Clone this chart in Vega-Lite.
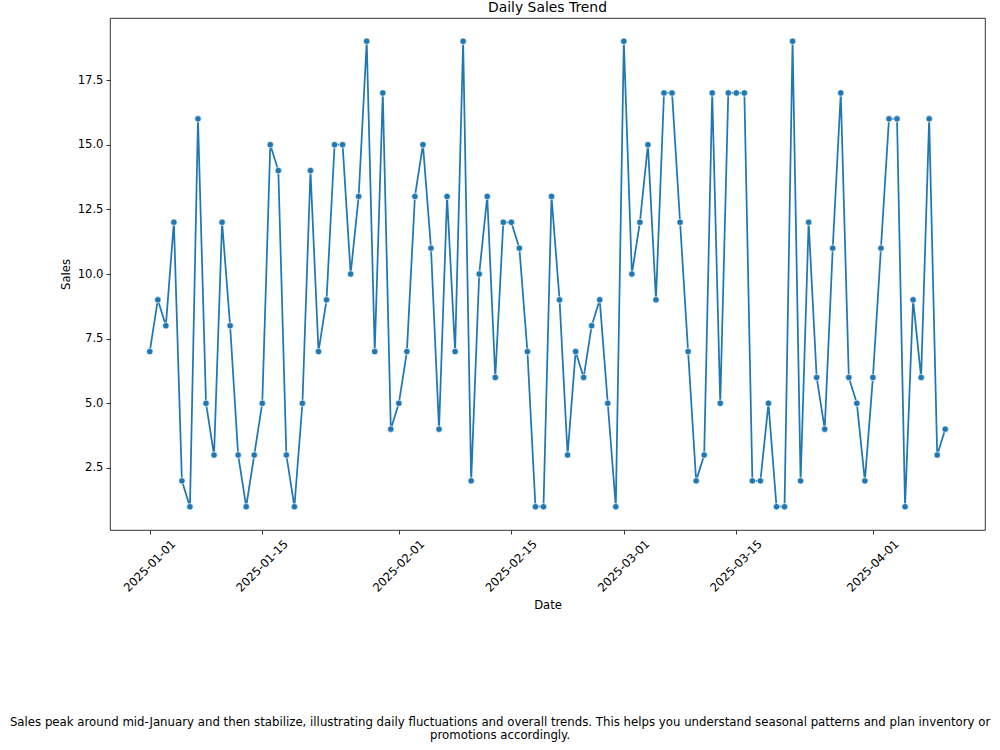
{
  "$schema": "https://vega.github.io/schema/vega-lite/v6.json",
  "background": "white",
  "padding": {"left": 9, "top": 0, "right": 0, "bottom": 0},
  "config": {
    "font": "DejaVu Sans",
    "view": {"stroke": "#000000", "strokeWidth": 0.8},
    "axis": {
      "labelFont": "DejaVu Sans",
      "titleFont": "DejaVu Sans",
      "labelFontSize": 11.6,
      "titleFontSize": 11.6,
      "titleFontWeight": "normal",
      "labelColor": "#000000",
      "titleColor": "#000000",
      "tickColor": "#000000",
      "tickSize": 4,
      "tickWidth": 0.8,
      "domain": false,
      "grid": false
    }
  },
  "title": {
    "text": [
      "Sales peak around mid-January and then stabilize, illustrating daily fluctuations and overall trends. This helps you understand seasonal patterns and plan inventory or",
      "promotions accordingly."
    ],
    "orient": "bottom",
    "anchor": "middle",
    "font": "DejaVu Sans",
    "fontSize": 11.75,
    "fontWeight": "normal",
    "color": "#000000",
    "lineHeight": 13.5,
    "offset": 105,
    "dx": -22.5
  },
  "vconcat": [
    {
      "title": {
        "text": "Daily Sales Trend",
        "anchor": "middle",
        "font": "DejaVu Sans",
        "fontSize": 13.9,
        "fontWeight": "normal",
        "color": "#000000",
        "offset": 3
      },
      "width": 875,
      "height": 512,
      "data": {
        "values": [
          {"date": "2025-01-01", "sales": 7},
          {"date": "2025-01-02", "sales": 9},
          {"date": "2025-01-03", "sales": 8},
          {"date": "2025-01-04", "sales": 12},
          {"date": "2025-01-05", "sales": 2},
          {"date": "2025-01-06", "sales": 1},
          {"date": "2025-01-07", "sales": 16},
          {"date": "2025-01-08", "sales": 5},
          {"date": "2025-01-09", "sales": 3},
          {"date": "2025-01-10", "sales": 12},
          {"date": "2025-01-11", "sales": 8},
          {"date": "2025-01-12", "sales": 3},
          {"date": "2025-01-13", "sales": 1},
          {"date": "2025-01-14", "sales": 3},
          {"date": "2025-01-15", "sales": 5},
          {"date": "2025-01-16", "sales": 15},
          {"date": "2025-01-17", "sales": 14},
          {"date": "2025-01-18", "sales": 3},
          {"date": "2025-01-19", "sales": 1},
          {"date": "2025-01-20", "sales": 5},
          {"date": "2025-01-21", "sales": 14},
          {"date": "2025-01-22", "sales": 7},
          {"date": "2025-01-23", "sales": 9},
          {"date": "2025-01-24", "sales": 15},
          {"date": "2025-01-25", "sales": 15},
          {"date": "2025-01-26", "sales": 10},
          {"date": "2025-01-27", "sales": 13},
          {"date": "2025-01-28", "sales": 19},
          {"date": "2025-01-29", "sales": 7},
          {"date": "2025-01-30", "sales": 17},
          {"date": "2025-01-31", "sales": 4},
          {"date": "2025-02-01", "sales": 5},
          {"date": "2025-02-02", "sales": 7},
          {"date": "2025-02-03", "sales": 13},
          {"date": "2025-02-04", "sales": 15},
          {"date": "2025-02-05", "sales": 11},
          {"date": "2025-02-06", "sales": 4},
          {"date": "2025-02-07", "sales": 13},
          {"date": "2025-02-08", "sales": 7},
          {"date": "2025-02-09", "sales": 19},
          {"date": "2025-02-10", "sales": 2},
          {"date": "2025-02-11", "sales": 10},
          {"date": "2025-02-12", "sales": 13},
          {"date": "2025-02-13", "sales": 6},
          {"date": "2025-02-14", "sales": 12},
          {"date": "2025-02-15", "sales": 12},
          {"date": "2025-02-16", "sales": 11},
          {"date": "2025-02-17", "sales": 7},
          {"date": "2025-02-18", "sales": 1},
          {"date": "2025-02-19", "sales": 1},
          {"date": "2025-02-20", "sales": 13},
          {"date": "2025-02-21", "sales": 9},
          {"date": "2025-02-22", "sales": 3},
          {"date": "2025-02-23", "sales": 7},
          {"date": "2025-02-24", "sales": 6},
          {"date": "2025-02-25", "sales": 8},
          {"date": "2025-02-26", "sales": 9},
          {"date": "2025-02-27", "sales": 5},
          {"date": "2025-02-28", "sales": 1},
          {"date": "2025-03-01", "sales": 19},
          {"date": "2025-03-02", "sales": 10},
          {"date": "2025-03-03", "sales": 12},
          {"date": "2025-03-04", "sales": 15},
          {"date": "2025-03-05", "sales": 9},
          {"date": "2025-03-06", "sales": 17},
          {"date": "2025-03-07", "sales": 17},
          {"date": "2025-03-08", "sales": 12},
          {"date": "2025-03-09", "sales": 7},
          {"date": "2025-03-10", "sales": 2},
          {"date": "2025-03-11", "sales": 3},
          {"date": "2025-03-12", "sales": 17},
          {"date": "2025-03-13", "sales": 5},
          {"date": "2025-03-14", "sales": 17},
          {"date": "2025-03-15", "sales": 17},
          {"date": "2025-03-16", "sales": 17},
          {"date": "2025-03-17", "sales": 2},
          {"date": "2025-03-18", "sales": 2},
          {"date": "2025-03-19", "sales": 5},
          {"date": "2025-03-20", "sales": 1},
          {"date": "2025-03-21", "sales": 1},
          {"date": "2025-03-22", "sales": 19},
          {"date": "2025-03-23", "sales": 2},
          {"date": "2025-03-24", "sales": 12},
          {"date": "2025-03-25", "sales": 6},
          {"date": "2025-03-26", "sales": 4},
          {"date": "2025-03-27", "sales": 11},
          {"date": "2025-03-28", "sales": 17},
          {"date": "2025-03-29", "sales": 6},
          {"date": "2025-03-30", "sales": 5},
          {"date": "2025-03-31", "sales": 2},
          {"date": "2025-04-01", "sales": 6},
          {"date": "2025-04-02", "sales": 11},
          {"date": "2025-04-03", "sales": 16},
          {"date": "2025-04-04", "sales": 16},
          {"date": "2025-04-05", "sales": 1},
          {"date": "2025-04-06", "sales": 9},
          {"date": "2025-04-07", "sales": 6},
          {"date": "2025-04-08", "sales": 16},
          {"date": "2025-04-09", "sales": 3},
          {"date": "2025-04-10", "sales": 4}
        ]
      },
      "encoding": {
        "x": {
          "field": "date",
          "type": "temporal",
          "title": "Date",
          "scale": {
            "type": "utc",
            "domain": [
              {"year": 2024, "month": 12, "date": 27, "hours": 1, "minutes": 12, "utc": true},
              {"year": 2025, "month": 4, "date": 14, "hours": 22, "minutes": 48, "utc": true}
            ],
            "nice": false
          },
          "axis": {
            "values": [
              {"year": 2025, "month": 1, "date": 1, "utc": true},
              {"year": 2025, "month": 1, "date": 15, "utc": true},
              {"year": 2025, "month": 2, "date": 1, "utc": true},
              {"year": 2025, "month": 2, "date": 15, "utc": true},
              {"year": 2025, "month": 3, "date": 1, "utc": true},
              {"year": 2025, "month": 3, "date": 15, "utc": true},
              {"year": 2025, "month": 4, "date": 1, "utc": true}
            ],
            "labelExpr": "utcFormat(datum.value, '%Y-%m-%d')",
            "labelAngle": 315,
            "labelAlign": "center",
            "labelBaseline": "middle",
            "labelPadding": 32,
            "labelOverlap": false,
            "labelFlush": false,
            "titlePadding": 6
          }
        },
        "y": {
          "field": "sales",
          "type": "quantitative",
          "title": "Sales",
          "scale": {"domain": [0.1, 19.9], "nice": false, "zero": false},
          "axis": {
            "values": [2.5, 5, 7.5, 10, 12.5, 15, 17.5],
            "format": ".1f",
            "labelPadding": 3,
            "titlePadding": 6
          }
        }
      },
      "layer": [
        {
          "mark": {"type": "line", "color": "#1f77b4", "strokeWidth": 1.75}
        },
        {
          "mark": {
            "type": "point",
            "filled": true,
            "fill": "#1f77b4",
            "stroke": "#ffffff",
            "strokeWidth": 0.7,
            "opacity": 1,
            "size": 42
          }
        }
      ]
    }
  ]
}
